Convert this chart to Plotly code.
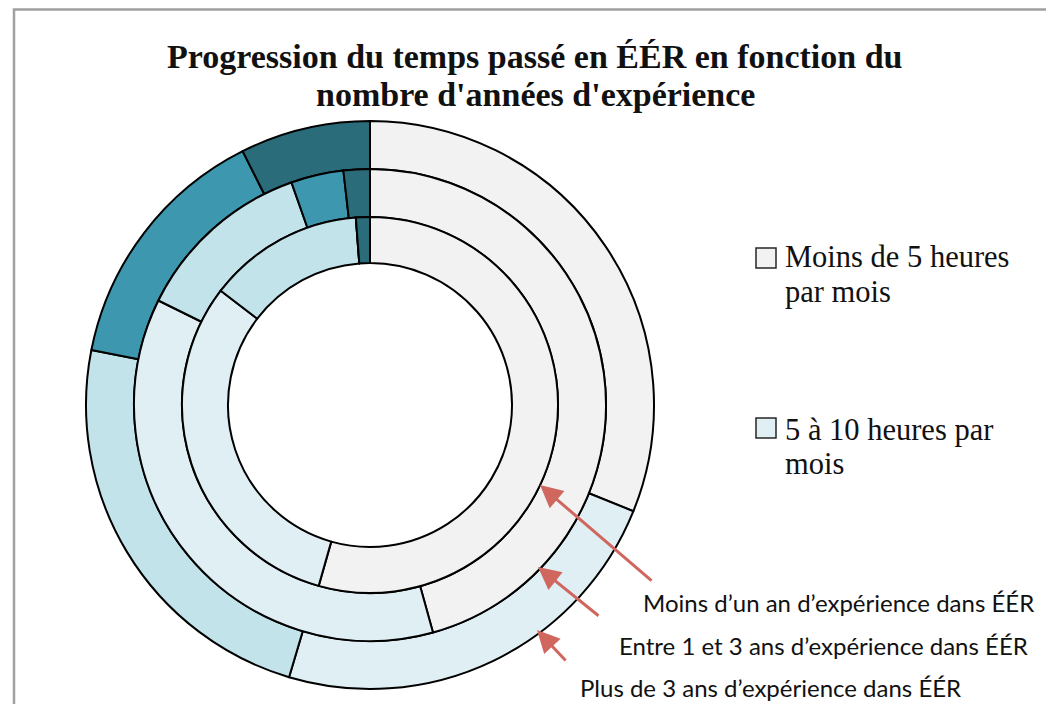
import plotly.graph_objects as go

# categories (temps passé en ÉÉR)
categories = [
    "Moins de 5 heures par mois",
    "5 à 10 heures par mois",
    "10 à 15 heures par mois",
    "15 à 20 heures par mois",
    "Plus de 20 heures par mois",
]
# % of respondents per ring
moins_1_an = [54.4, 31.0, 13.4, 0.0, 1.2]
entre_1_3_ans = [45.7, 36.6, 12.3, 3.6, 1.8]
plus_3_ans = [31.1, 23.5, 23.5, 14.5, 7.4]

ring_names = [
    "Moins d\u2019un an d\u2019expérience dans ÉÉR",
    "Entre 1 et 3 ans d\u2019expérience dans ÉÉR",
    "Plus de 3 ans d\u2019expérience dans ÉÉR",
]

title_lines = ["Progression du temps passé en ÉÉR en fonction du", "nombre d'années d'expérience"]

colors = ["#F2F2F2", "#DFEFF4", "#C3E3EB", "#3D97AE", "#2B6C7B"]

W, H = 1054, 704
OFF = 8  # page body margin
cx, cy = 370, 405  # pie centre in px (screen)


def px(x, y):
    return (x - OFF) / W, 1 - (y - OFF) / H


def dom(r):
    a0, b1 = px(cx - r, cy - r)
    a1, b0 = px(cx + r, cy + r)
    return dict(x=[a0, a1], y=[b0, b1])


fig = go.Figure()
# (values, outer radius, inner radius)
rings = [(plus_3_ans, 284, 236), (entre_1_3_ans, 236, 188), (moins_1_an, 188, 142)]
for (vals, ro, ri), nm in zip(rings, ring_names[::-1]):
    fig.add_trace(go.Pie(
        labels=categories, values=vals, name=nm,
        domain=dom(ro), hole=ri / ro,
        sort=False, direction="clockwise", rotation=0,
        textinfo="none", showlegend=False,
        marker=dict(colors=colors, line=dict(color="black", width=2)),
        hovertemplate="%{label}: %{value}%<extra>" + nm + "</extra>",
    ))

shapes = []
annotations = []


def txt(x, y, s, size, family="Liberation Serif", anchor="left"):
    a, b = px(x, y)
    annotations.append(dict(xref="paper", yref="paper", x=a, y=b, xanchor=anchor, yanchor="middle",
                            text=s, showarrow=False,
                            font=dict(family=family, size=size, color="#111111")))


# outer frame
x0, y0 = px(14, 9.5)
shapes.append(dict(type="rect", xref="paper", yref="paper", x0=x0, y0=-0.1, x1=1.1, y1=y0,
                   line=dict(color="#A0A0A0", width=2.5), fillcolor="rgba(0,0,0,0)"))

# title, one line at a time
for line, ly in zip(title_lines, [57, 95]):
    txt(535, ly, "<b>" + line + "</b>", 34, anchor="center")

# hand drawn legend (only first two entries visible)
leg = [(colors[0], 248, ["Moins de 5 heures", "par mois"], [257, 292]),
       (colors[1], 418, ["5 à 10 heures par", "mois"], [430, 464])]
for col, top, lines, ys in leg:
    a0, b0 = px(756, top)
    a1, b1 = px(776, top + 20)
    shapes.append(dict(type="rect", xref="paper", yref="paper", x0=a0, y0=b1, x1=a1, y1=b0,
                       fillcolor=col, line=dict(color="#262626", width=1.5)))
    for s, ly in zip(lines, ys):
        txt(783, ly, s, 30.5)

# ring labels + red arrows
lab_pos = [(1036, 602, "right"), (1030, 645, "right"), (578, 687, "left")]
for nm, (lx, ly, anc) in zip(ring_names, lab_pos):
    txt(lx, ly, nm, 24, family="Lato", anchor=anc)

arrows = [((540, 485), (653, 582)), ((538, 567), (600, 617)), ((537, 630), (567, 662))]
for (hx, hy), (ex, ey) in arrows:
    x, y = px(hx, hy)
    annotations.append(dict(xref="paper", yref="paper", x=x, y=y, ax=ex - hx, ay=ey - hy,
                            text="", showarrow=True, arrowhead=2, arrowsize=1.5,
                            arrowwidth=3, arrowcolor="#D0675F"))

fig.update_layout(
    width=W, height=H,
    margin=dict(l=0, r=0, t=0, b=0),
    paper_bgcolor="white", plot_bgcolor="white",
    shapes=shapes, annotations=annotations,
)

fig.write_html("out.html")
